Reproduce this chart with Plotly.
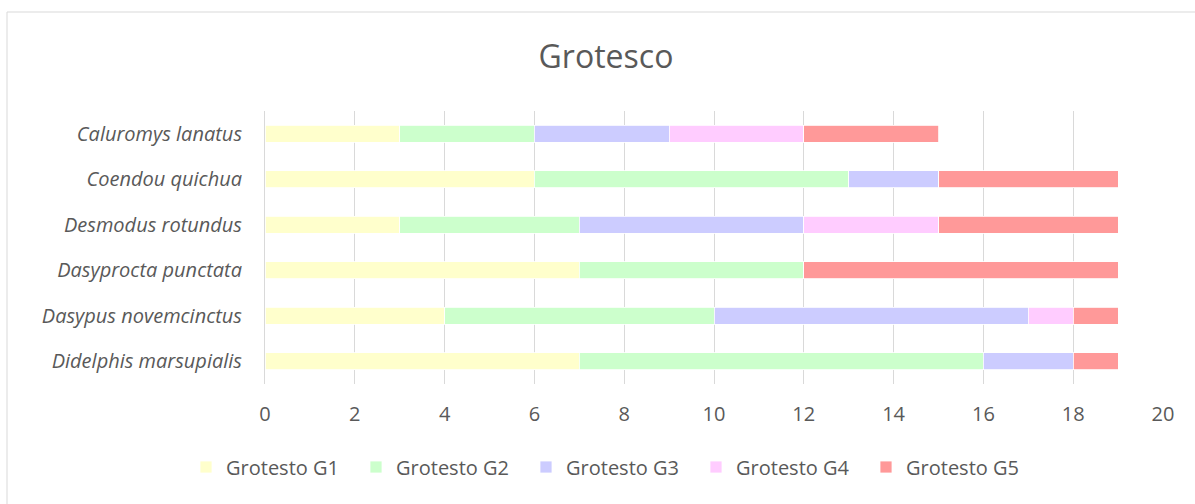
import plotly.graph_objects as go

categories = ["Caluromys lanatus", "Coendou quichua", "Desmodus rotundus",
              "Dasyprocta punctata", "Dasypus novemcinctus", "Didelphis marsupialis"]
series_names = ["Grotesto G1", "Grotesto G2", "Grotesto G3", "Grotesto G4", "Grotesto G5"]
g1 = [3, 6, 3, 7, 4, 7]
g2 = [3, 7, 4, 5, 6, 9]
g3 = [3, 2, 5, 0, 7, 2]
g4 = [3, 0, 3, 0, 1, 0]
g5 = [3, 4, 4, 7, 1, 1]
colors = ["#FFFFCC", "#CCFFCC", "#CCCCFF", "#FFCCFF", "#FF9999"]
x_ticks = [0, 2, 4, 6, 8, 10, 12, 14, 16, 18, 20]

FONT = "Open Sans"
TXT = "#595959"

fig = go.Figure()
for name, vals, col in zip(series_names, [g1, g2, g3, g4, g5], colors):
    fig.add_trace(go.Bar(
        y=categories, x=vals, name=name, orientation="h",
        marker=dict(color=col, line=dict(color="white", width=0.8)),
    ))

W, H = 1195, 504
L, R, T, B = 265, 32, 111, 120
pw = W - L - R
ph = H - T - B

def px_x(p):
    return (p - L) / pw

def px_y(p):
    return (H - B - p) / ph

fig.update_layout(
    width=W, height=H,
    barmode="stack", bargap=0.62,
    margin=dict(l=L, r=R, t=T, b=B, autoexpand=False),
    paper_bgcolor="white", plot_bgcolor="white",
    font=dict(family=FONT, color=TXT),
    title=dict(text="Grotesco", x=606 / W, xanchor="center",
               y=1 - 57 / H, yanchor="middle",
               font=dict(size=32, color=TXT, family=FONT)),
    xaxis=dict(range=[0, 20], tickvals=x_ticks, showgrid=True, gridcolor="#D9D9D9",
               gridwidth=1, zeroline=False, showline=False, ticks="",
               tickfont=dict(size=20, color=TXT), ticklabelstandoff=16),
    yaxis=dict(autorange="reversed", showline=True, linecolor="#D9D9D9", linewidth=1,
               ticks="", showgrid=False,
               tickfont=dict(size=20, color=TXT, style="italic"), ticklabelstandoff=18),
    legend=dict(orientation="h", x=px_x(186), xanchor="left", y=px_y(467), yanchor="middle",
                font=dict(size=20, color=TXT), traceorder="normal",
                entrywidth=125, itemwidth=30),
    shapes=[dict(type="rect", xref="paper", yref="paper",
                 x0=px_x(7), x1=px_x(1230), y0=px_y(12), y1=px_y(560),
                 line=dict(color="#D9D9D9", width=1), fillcolor="rgba(0,0,0,0)", layer="below")],
    showlegend=True,
)

fig.write_html("out.html", config={"displayModeBar": False},
               post_script="document.body.style.margin='0';")
